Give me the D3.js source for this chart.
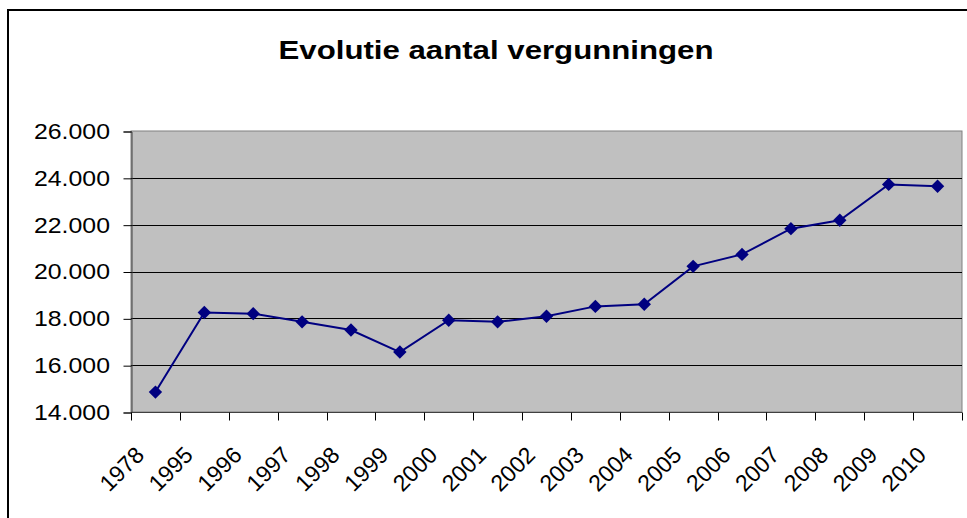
<!DOCTYPE html>
<html>
<head>
<meta charset="utf-8">
<script src="https://cdn.jsdelivr.net/npm/d3@7"></script>
<style>
  body { margin: 0; background: #fff; }
  text { font-family: Arial, "Liberation Sans", sans-serif; }
</style>
</head>
<body>
<svg id="chart" width="967" height="518"></svg>
<script>
var years = ["1978", "1995", "1996", "1997", "1998", "1999", "2000", "2001", "2002",
  "2003", "2004", "2005", "2006", "2007", "2008", "2009", "2010"];
var permits = [14850, 18250, 18200, 17850, 17500, 16560, 17920, 17850, 18090,
  18510, 18600, 20220, 20730, 21830, 22190, 23720, 23640];
var yTicks = [14000, 16000, 18000, 20000, 22000, 24000, 26000];
var title = "Evolutie aantal vergunningen";

var svg = d3.select("#chart"),
  width = +svg.attr("width"),
  height = +svg.attr("height");

var plotLeft = 131, plotRight = 962, plotTop = 131, plotBottom = 412;

// chart frame (runs off the right and bottom of the picture)
svg.append("rect")
  .attr("x", 8).attr("y", 10)
  .attr("width", width + 20).attr("height", height + 20)
  .attr("fill", "#fff")
  .attr("stroke", "#000")
  .attr("stroke-width", 2);

svg.append("text")
  .attr("transform", "translate(496,59) scale(1.2,1)")
  .attr("text-anchor", "middle")
  .attr("font-size", 26)
  .attr("font-weight", "bold")
  .text(title);

var x = d3.scaleBand()
  .domain(years)
  .range([plotLeft, plotRight]);

var y = d3.scaleLinear()
  .domain([14000, 26000])
  .range([plotBottom, plotTop]);

var fmt = function (d) { return d3.format(",")(d).replace(/,/g, "."); };

// plot area
svg.append("rect")
  .attr("x", plotLeft).attr("y", plotTop)
  .attr("width", plotRight - plotLeft).attr("height", plotBottom - plotTop)
  .attr("fill", "#c0c0c0")
  .attr("stroke", "#808080")
  .attr("stroke-width", 1);

svg.append("g")
  .selectAll("line")
  .data(yTicks.slice(1, -1))
  .enter().append("line")
  .attr("x1", plotLeft).attr("x2", plotRight)
  .attr("y1", function (d) { return Math.round(y(d)) + 0.5; })
  .attr("y2", function (d) { return Math.round(y(d)) + 0.5; })
  .attr("stroke", "#000");

// y axis (labels drawn by hand so they can be stretched like the original)
var yAxis = svg.append("g")
  .attr("transform", "translate(" + (plotLeft + 0.5) + ",0.5)")
  .call(d3.axisLeft(y).tickValues(yTicks).tickFormat("").tickSize(8));
yAxis.select(".domain").attr("stroke", "#404040");

svg.append("g")
  .selectAll("text")
  .data(yTicks)
  .enter().append("text")
  .attr("transform", function (d) {
    return "translate(110," + y(d) + ") scale(1.13,1)";
  })
  .attr("text-anchor", "end")
  .attr("dy", "0.36em")
  .attr("font-size", 22)
  .text(fmt);

// x axis: ticks on category boundaries
var xAxis = svg.append("g")
  .attr("transform", "translate(0," + (plotBottom + 0.5) + ")");
xAxis.append("line")
  .attr("x1", plotLeft).attr("x2", plotRight)
  .attr("stroke", "#404040");
xAxis.selectAll("line.tick")
  .data(years.concat(["end"]))
  .enter().append("line")
  .attr("class", "tick")
  .attr("x1", function (d, i) { return Math.round(plotLeft + i * x.step()) + 0.5; })
  .attr("x2", function (d, i) { return Math.round(plotLeft + i * x.step()) + 0.5; })
  .attr("y1", 0).attr("y2", 8)
  .attr("stroke", "#000");
xAxis.selectAll("text")
  .data(years)
  .enter().append("text")
  .attr("transform", function (d) {
    return "translate(" + (x(d) + x.bandwidth() / 2 - 10) + ",44) rotate(-45)";
  })
  .attr("text-anchor", "end")
  .attr("font-size", 23)
  .text(function (d) { return d; });

// series
var line = d3.line()
  .x(function (d, i) { return x(years[i]) + x.bandwidth() / 2; })
  .y(function (d) { return y(d); });

svg.append("path")
  .datum(permits)
  .attr("d", line)
  .attr("fill", "none")
  .attr("stroke", "#000080")
  .attr("stroke-width", 2);

svg.append("g")
  .selectAll("path")
  .data(permits)
  .enter().append("path")
  .attr("d", d3.symbol().type(d3.symbolSquare).size(90))
  .attr("transform", function (d, i) {
    return "translate(" + (x(years[i]) + x.bandwidth() / 2) + "," + y(d) + ") rotate(45)";
  })
  .attr("fill", "#000080");
</script>
</body>
</html>
